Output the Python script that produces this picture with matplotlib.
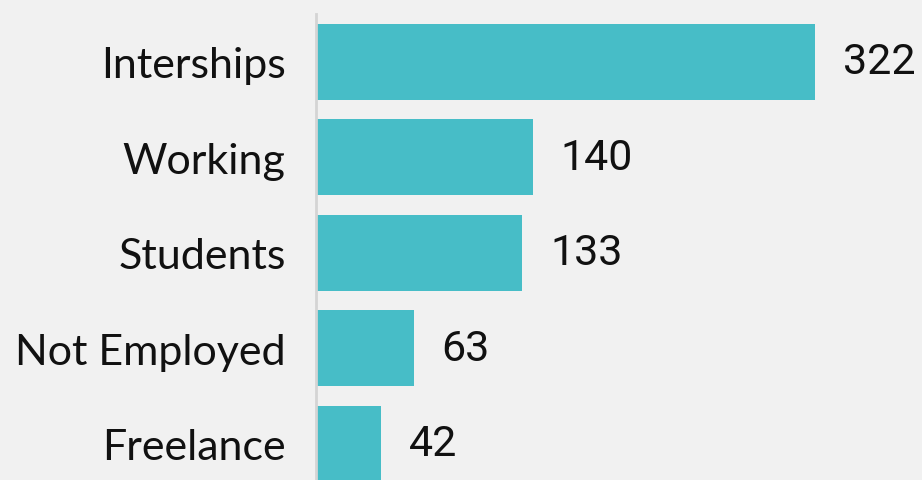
import matplotlib.pyplot as plt

categories = ["Interships", "Working", "Students", "Not Employed", "Freelance"]
values = [322, 140, 133, 63, 42]

fig = plt.figure(figsize=(9.22, 4.81), dpi=100)
fig.patch.set_facecolor("#f1f1f1")

# axes from the spine at x=316 to the right edge, top at y=15
ax = fig.add_axes([316 / 922, 0, 1 - 316 / 922, (481 - 15) / 481])
ax.set_facecolor("none")

pos = list(range(len(categories)))
ax.barh(pos, values, height=0.795, color="#47bdc7")

ax.set_xlim(0, (922 - 316) / 1.55)
ax.set_ylim(4.377, -0.497)

for p, v in zip(pos, values):
    ax.text(v + 18, p, str(v), va="center", ha="left", fontsize=31,
            family="Roboto", color="#111111")

ax.set_yticks(pos)
ax.set_yticklabels(categories, fontsize=31, family="Lato", color="#111111")
ax.tick_params(axis="y", length=0, pad=22)
ax.set_xticks([])

for s in ["top", "right", "bottom"]:
    ax.spines[s].set_visible(False)
ax.spines["left"].set_color("#d4d4d4")
ax.spines["left"].set_linewidth(2)

fig.savefig("out.png", dpi=100, facecolor=fig.get_facecolor())
